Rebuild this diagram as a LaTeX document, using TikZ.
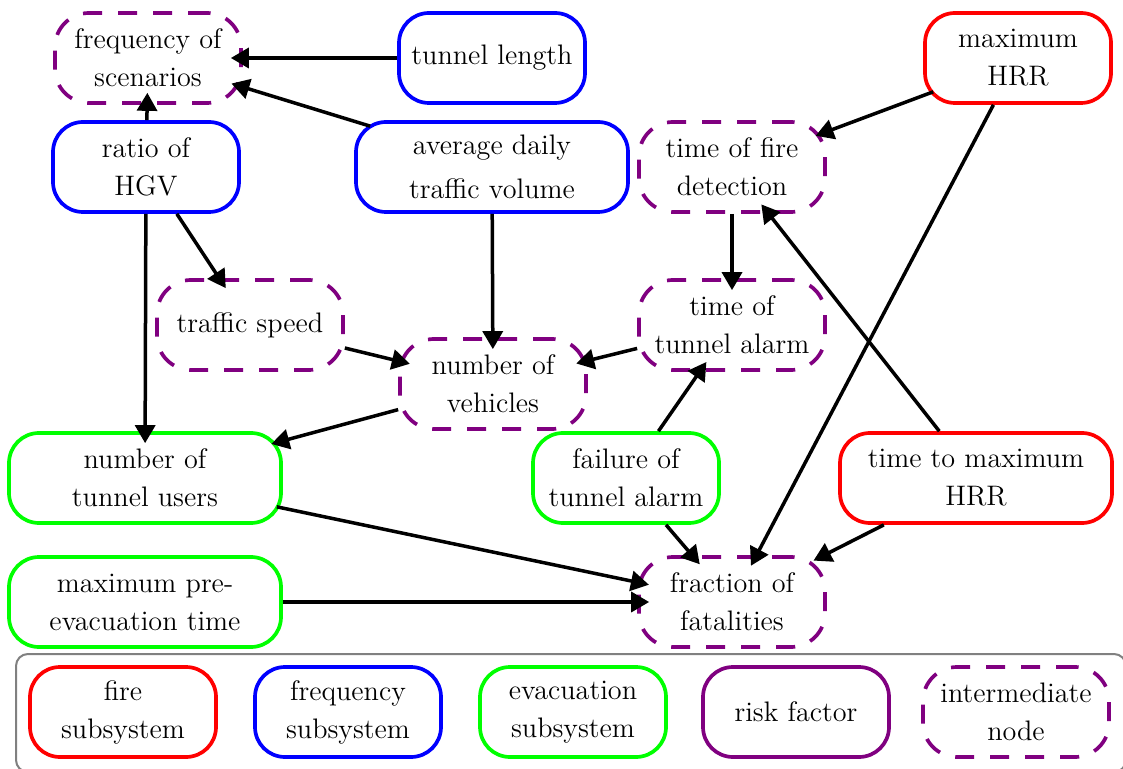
\documentclass[tikz,border=0pt]{standalone}
\usetikzlibrary{arrows.meta}
\definecolor{rpurple}{RGB}{128,0,128}
\definecolor{rgreen}{RGB}{0,255,0}
\definecolor{rblue}{RGB}{0,0,255}
\definecolor{rred}{RGB}{255,0,0}
\begin{document}
\begin{tikzpicture}[x=0.5pt,y=-0.5pt,
  every node/.style={font=\fontsize{14.1}{19}\selectfont, align=center, inner sep=2pt},
  basebox/.style={draw, line width=1.85pt, rounded corners=15pt, minimum width=93pt, minimum height=45pt},
  widebox/.style={minimum width=136pt},
  firebox/.style={basebox, draw=rred},
  freqbox/.style={basebox, draw=rblue},
  evacbox/.style={basebox, draw=rgreen},
  riskbox/.style={basebox, draw=rpurple},
  interbox/.style={basebox, draw=rpurple, dash pattern=on 9.5pt off 8pt, rounded corners=17pt},
  conn/.style={line width=1.75pt, -{Triangle[length=9pt,width=10pt]}, shorten >=-6pt},
  frame/.style={draw=gray, line width=1pt, rounded corners=6pt}]
\clip (0,0) rectangle (1123,769);
\fill[white] (0,0) rectangle (1123,769);
% nodes
\node[interbox] (freq) at (148,58) {frequency of\\scenarios};
\node[freqbox] (len) at (492,58) {tunnel length};
\node[firebox] (mhrr) at (1018,58) {maximum\\HRR};
\node[freqbox] (hgv) at (146,167) {ratio of\\HGV};
\node[freqbox, widebox] (adt) at (492,167) {average daily\\[3pt]traffic volume};
\node[interbox] (det) at (732,167) {time of fire\\detection};
\node[interbox] (speed) at (250,325) {traffic speed};
\node[interbox] (alarm) at (732,325) {time of\\tunnel alarm};
\node[interbox] (veh) at (493,384) {number of\\vehicles};
\node[evacbox, widebox] (users) at (145,478) {number of\\tunnel users};
\node[evacbox] (fail) at (626,478) {failure of\\tunnel alarm};
\node[firebox, widebox] (tmax) at (976,478) {time to maximum\\HRR};
\node[evacbox, widebox] (pre) at (145,602) {maximum pre-\\evacuation time};
\node[interbox] (fat) at (732,602) {fraction of\\fatalities};
% legend
\node[frame, minimum width=555pt, minimum height=59pt] (legend) at (571,713) {};
\node[firebox] (lfire) at (123,712) {fire\\subsystem};
\node[freqbox] (lfreq) at (348,712) {frequency\\subsystem};
\node[evacbox] (levac) at (573,712) {evacuation\\subsystem};
\node[riskbox] (lrisk) at (796,712) {risk factor};
\node[interbox] (linter) at (1016,712) {intermediate\\node};
% connectors
\draw[conn] (len) -- (freq);
\draw[conn] ([shift={(16,6)}]adt.north west) -- (freq);
\draw[conn] (hgv) -- (freq);
\draw[conn] (hgv) -- (speed);
\draw[conn] (hgv) -- (users);
\draw[conn] (adt) -- (veh);
\draw[conn] (speed) -- (veh);
\draw[conn] (alarm) -- (veh);
\draw[conn] (veh) -- (users);
\draw[conn] ([shift={(10,-13)}]mhrr.south west) -- (det);
\draw[conn] (mhrr) -- (fat);
\draw[conn] (tmax) -- (det);
\draw[conn] (det) -- (alarm);
\draw[conn] (fail) -- (alarm);
\draw[conn] (fail) -- (fat);
\draw[conn] ([shift={(-6,-18)}]users.south east) -- (fat);
\draw[conn] (pre) -- (fat);
\draw[conn] (tmax) -- (fat);
\end{tikzpicture}
\end{document}
